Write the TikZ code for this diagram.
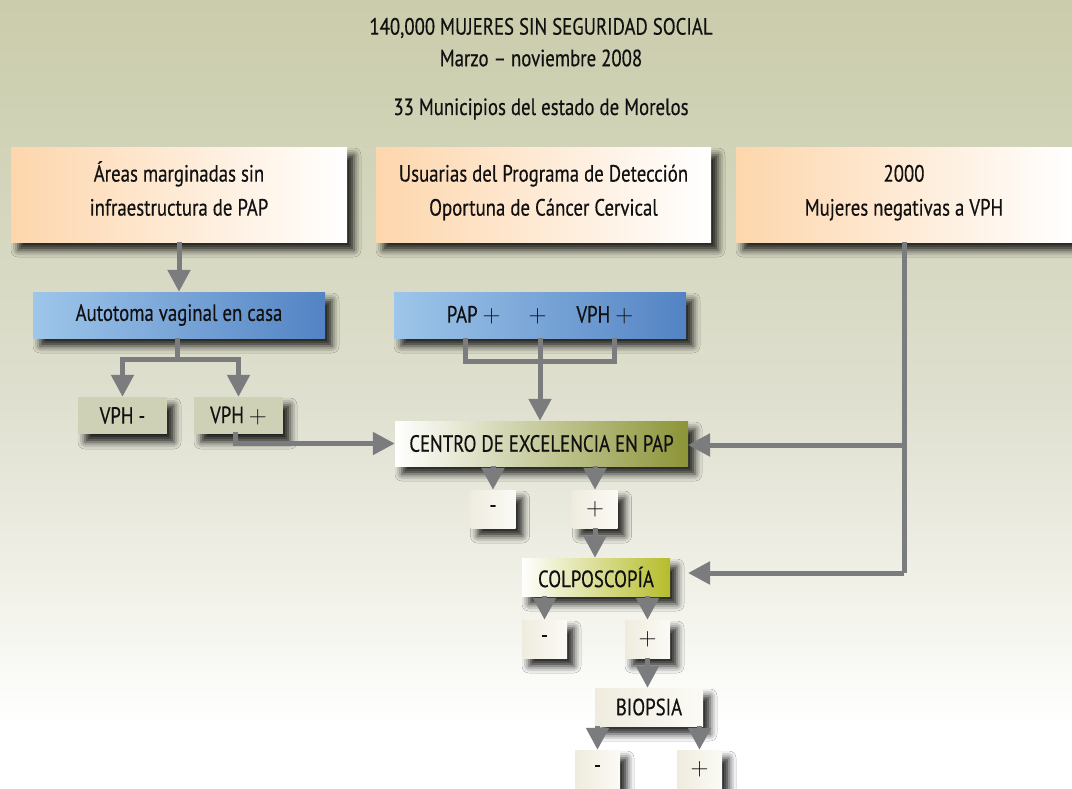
\documentclass[tikz,border=0pt]{standalone}
\usepackage{fontspec}
\setmainfont{PT Sans}[FakeStretch=0.8, FakeBold=0.4]
\usetikzlibrary{arrows.meta,shadows.blur,calc}
\definecolor{bgtop}{HTML}{CACCAB}
\definecolor{bgmid}{HTML}{DEDFCE}
\definecolor{bglow}{HTML}{F2F2EA}
\definecolor{orgL}{HTML}{FDD6AC}
\definecolor{bluL}{HTML}{9EC6EA}
\definecolor{bluR}{HTML}{5383C4}
\definecolor{vphc}{HTML}{CFD1B6}
\definecolor{oliveR}{HTML}{8C9437}
\definecolor{limeR}{HTML}{B5BD2A}
\definecolor{creamL}{HTML}{EFECDF}
\definecolor{creamR}{HTML}{FBFAF5}
\definecolor{arrc}{HTML}{7B7C7E}
\definecolor{txt}{HTML}{111111}
\pgfdeclareverticalshading{bgshade}{100bp}{color(0bp)=(white); color(29bp)=(white); color(37bp)=(bglow); color(50bp)=(bgmid); color(75bp)=(bgtop); color(100bp)=(bgtop)}
\newcommand{\pl}{$+$}
\newcommand{\twol}[2]{\raisebox{-3.5pt}[0pt][0pt]{\begin{tabular}{@{}c@{}}#1\\#2\end{tabular}}}
\tikzset{
  box/.style={rectangle, inner sep=0pt, align=center, text=txt,
    font=\fontsize{23.5}{34}\selectfont,
    blur shadow={shadow xshift=7pt, shadow yshift=-8pt, shadow blur radius=7pt, shadow opacity=85}},
  obox/.style={box, left color=orgL, right color=white},
  bbox/.style={box, left color=bluL, right color=bluR},
  vbox/.style={box, fill=vphc},
  cbox/.style={box, left color=creamL, right color=creamR},
  ctrbox/.style={box, left color=white, middle color=oliveR!30!white, right color=oliveR},
  colbox/.style={box, left color=white, middle color=limeR!30!white, right color=limeR},
  line/.style={draw=arrc, line width=5pt},
  conn/.style={line, -{Triangle[width=22pt,length=22pt]}},
  ttl/.style={text=txt, font=\fontsize{23.5}{32}\selectfont}
}
\begin{document}
\begin{tikzpicture}[x=1pt,y=-1pt]
\useasboundingbox (0,0) rectangle (1072,788);
\shade[shading=bgshade] (0,0) rectangle (1072,788);

\node[ttl] (t1) at (541,28) {140,000 MUJERES SIN SEGURIDAD SOCIAL};
\node[ttl] (t2) at (541,58) {Marzo – noviembre 2008};
\node[ttl] (t3) at (541,109) {33 Municipios del estado de Morelos};

\node[obox, minimum width=336pt, minimum height=95pt] (A) at (179,194.5) {\twol{Áreas marginadas sin}{infraestructura de PAP}};
\node[obox, minimum width=335pt, minimum height=95pt] (B) at (543.5,194.5) {\twol{Usuarias del Programa de Detección}{Oportuna de Cáncer Cervical}};
\node[obox, minimum width=336pt, minimum height=95pt] (C) at (904,194.5) {\twol{2000}{Mujeres negativas a VPH}};

\node[bbox, minimum width=292pt, minimum height=46pt] (auto) at (179,315) {Autotoma vaginal en casa};
\node[bbox, minimum width=292pt, minimum height=46pt] (pap) at (540,315) {PAP \pl\hspace{28pt}\pl\hspace{30pt}VPH \pl};

\node[vbox, minimum width=89pt, minimum height=37pt] (vm) at (122.5,415.5) {VPH -};
\node[vbox, minimum width=89pt, minimum height=37pt] (vp) at (238.5,415.5) {VPH \pl};

\node[ctrbox, minimum width=293pt, minimum height=45pt] (ctr) at (541.5,443.5) {CENTRO DE EXCELENCIA EN PAP};

\node[cbox, minimum width=45pt, minimum height=38pt] (m1) at (493,509) {-};
\node[cbox, minimum width=45pt, minimum height=38pt] (p1) at (595,509) {\pl};

\node[colbox, minimum width=148pt, minimum height=38pt] (col) at (596,577) {COLPOSCOPÍA};

\node[cbox, minimum width=45pt, minimum height=38pt] (m2) at (544.5,639) {-};
\node[cbox, minimum width=45pt, minimum height=38pt] (p2) at (647.5,639) {\pl};

\node[cbox, minimum width=108pt, minimum height=38pt] (bio) at (649,707) {BIOPSIA};

\node[cbox, minimum width=45pt, minimum height=38pt] (m3) at (597.5,769) {-};
\node[cbox, minimum width=45pt, minimum height=38pt] (p3) at (699.5,769) {\pl};

% connectors
\draw[conn] (A.south) -- (auto.north);
\coordinate (j1) at ($(auto.south)+(-2,21)$);
\draw[line] (auto.south -| j1) -- (j1);
\draw[conn] (j1) -| (vm.north);
\draw[conn] (j1) -| (vp.north);
\draw[conn] ($(vp.south)+(-3,-2)$) |- (ctr.west);

\coordinate (jl) at ($(pap.south)+(-75,23)$);
\coordinate (jr) at ($(pap.south)+(74,23)$);
\draw[line] (pap.south -| jl) -- (jl) -- (jr) -- (pap.south -| jr);
\draw[conn] (pap.south) -- (ctr.north -| pap.south);

\coordinate (ce) at (688,445);
\coordinate (cc) at (688,573);
\draw[line] (C.south) -- (C.south |- cc);
\draw[conn] (C.south |- ce) -- (ce);
\draw[conn] (C.south |- cc) -- (cc);

\draw[conn] (ctr.south -| m1.north) -- (m1.north);
\draw[conn] (ctr.south -| p1.north) -- (p1.north);
\draw[conn] (p1.south) -- (col.north -| p1.south);
\draw[conn] (col.south -| m2.north) -- (m2.north);
\draw[conn] (col.south -| p2.north) -- (p2.north);
\draw[conn] (p2.south) -- (bio.north -| p2.south);
\draw[conn] (bio.south -| m3.north) -- (m3.north);
\draw[conn] (bio.south -| p3.north) -- (p3.north);
\end{tikzpicture}
\end{document}
